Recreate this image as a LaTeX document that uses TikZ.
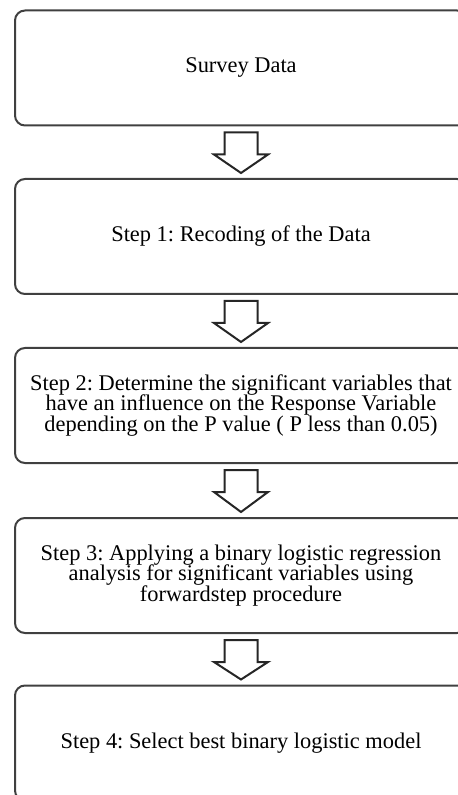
\documentclass[tikz,border=0pt]{standalone}
\usepackage{fontspec}
\setmainfont{Liberation Serif}
\usetikzlibrary{calc}

\tikzset{
  stepbox/.style={draw=black!75,line width=1pt,rounded corners=5pt,
    minimum width=226pt,minimum height=57.5pt,inner sep=0pt,align=center,
    font=\fontsize{11.2}{10.4}\selectfont\frenchspacing},
  flowarrow/.style={draw=black!85,line width=1pt,fill=white,line join=miter}
}
\newcommand{\blockarrow}[2]{%
  \draw[flowarrow] ($(#1.south)+(-8.25pt,-3pt)$) -- ++(16.5pt,0) -- ++(0,-11pt)
    -- ++(5.25pt,0) -- ($(#2.north)+(0,2.5pt)$) -- ($(#1.south)+(-13.5pt,-14pt)$)
    -- ++(5.25pt,0) -- cycle;}

\begin{document}
\begin{tikzpicture}[x=0.5pt,y=-0.5pt]
  \path[use as bounding box,clip] (0,0) rectangle (458,795);

  \node[stepbox] (survey) at (241,68)    {Survey Data};
  \node[stepbox] (recode) at (241,236.5) {Step 1: Recoding of the Data};
  \node[stepbox] (signif) at (241,405.5) {Step 2: Determine the significant variables that\\
    have an influence on the Response Variable\\
    depending on the P value ( P less than 0.05)};
  \node[stepbox] (logreg) at (241,575.5) {Step 3: Applying a binary logistic regression\\
    analysis for significant variables using\\
    forwardstep procedure};
  \node[stepbox] (select) at (241,743)   {Step 4: Select best binary logistic model};

  \blockarrow{survey}{recode}
  \blockarrow{recode}{signif}
  \blockarrow{signif}{logreg}
  \blockarrow{logreg}{select}
\end{tikzpicture}
\end{document}
